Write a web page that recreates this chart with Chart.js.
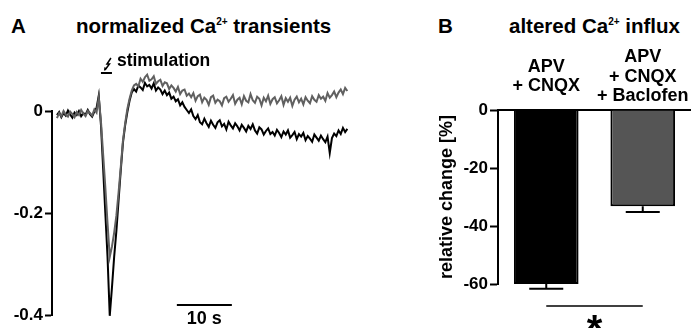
<!DOCTYPE html>
<html>
<head>
<meta charset="utf-8">
<script src="https://cdn.jsdelivr.net/npm/chart.js@4.4.1/dist/chart.umd.min.js"></script>
<style>
  html, body { margin: 0; padding: 0; background: #fff; }
  body { width: 691px; height: 328px; position: relative; overflow: hidden;
         font-family: "Liberation Sans", Arial, sans-serif; font-weight: bold; color: #000; }
  .lbl { position: absolute; font-size: 20.5px; line-height: 20px; white-space: nowrap; }
  .lbl sup { font-size: 10px; line-height: 0; vertical-align: 0; position: relative; top: -8px; }
  #chartA { position: absolute; left: 0; top: 0; }
  #chartB { position: absolute; left: 400px; top: 0; }
</style>
</head>
<body>
<div class="lbl" style="left:11px; top:16px;">A</div>
<div class="lbl" style="left:76px; top:16px;">normalized Ca<sup>2+</sup> transients</div>
<div class="lbl" style="left:438px; top:16px;">B</div>
<div class="lbl" style="left:509px; top:16px;">altered Ca<sup>2+</sup> influx</div>
<canvas id="chartA" width="360" height="328"></canvas>
<canvas id="chartB" width="291" height="328"></canvas>
<script>
// ---- panel A: normalized transients, one sample every 0.4 s ----
const sampleStep = 0.4;
const grayTrace = [
  -0.014, -0.004, -0.010, 0.000, -0.007, -0.011, -0.001, -0.006, -0.012, -0.002,
  -0.008, 0.002, -0.005, -0.010, 0.000, -0.004, -0.009, 0.003, -0.003, 0.026,
  -0.020, -0.085, -0.150, -0.220, -0.285, -0.265, -0.238, -0.205, -0.160, -0.110,
  -0.058, -0.024, 0.004, 0.024, 0.040, 0.050, 0.053, 0.048, 0.063, 0.057,
  0.066, 0.071, 0.059, 0.062, 0.068, 0.053, 0.058, 0.061, 0.049, 0.056,
  0.054, 0.043, 0.050, 0.045, 0.038, 0.047, 0.033, 0.040, 0.042, 0.030,
  0.034, 0.027, 0.035, 0.020, 0.029, 0.032, 0.017, 0.026, 0.022, 0.012,
  0.027, 0.030, 0.016, 0.022, 0.019, 0.011, 0.025, 0.028, 0.018, 0.024,
  0.031, 0.014, 0.022, 0.026, 0.013, 0.029, 0.020, 0.017, 0.033, 0.021,
  0.016, 0.028, 0.024, 0.011, 0.026, 0.019, 0.030, 0.014, 0.023, 0.027,
  0.015, 0.021, 0.029, 0.012, 0.025, 0.018, 0.026, 0.010, 0.022, 0.028,
  0.017, 0.024, 0.013, 0.027, 0.020, 0.015, 0.029, 0.022, 0.018, 0.031,
  0.024, 0.028, 0.020, 0.035, 0.026, 0.031, 0.038, 0.027, 0.036, 0.042,
  0.033, 0.045, 0.039
];
const blackTrace = [
  -0.008, -0.002, -0.012, -0.004, -0.009, 0.001, -0.007, -0.013, -0.003, -0.008,
  0.000, -0.010, -0.004, -0.007, 0.002, -0.006, -0.011, -0.001, 0.006, 0.030,
  -0.027, -0.112, -0.200, -0.286, -0.400, -0.345, -0.285, -0.235, -0.175, -0.116,
  -0.062, -0.028, -0.002, 0.020, 0.036, 0.043, 0.038, 0.050, 0.046, 0.041,
  0.055, 0.048, 0.051, 0.044, 0.054, 0.040, 0.046, 0.042, 0.033, 0.040,
  0.031, 0.036, 0.024, 0.028, 0.019, 0.023, 0.011, 0.017, 0.008, 0.002,
  -0.004, 0.003, -0.010, -0.016, -0.008, -0.022, -0.026, -0.015, -0.024, -0.031,
  -0.019, -0.027, -0.033, -0.022, -0.018, -0.030, -0.025, -0.036, -0.021, -0.028,
  -0.034, -0.024, -0.030, -0.038, -0.027, -0.033, -0.040, -0.029, -0.035, -0.026,
  -0.038, -0.044, -0.032, -0.036, -0.046, -0.039, -0.034, -0.045, -0.041, -0.048,
  -0.037, -0.043, -0.051, -0.040, -0.046, -0.038, -0.052, -0.047, -0.041, -0.055,
  -0.045, -0.050, -0.043, -0.057, -0.049, -0.054, -0.060, -0.046, -0.052, -0.058,
  -0.048, -0.055, -0.061, -0.050, -0.082, -0.053, -0.044, -0.049, -0.038, -0.045,
  -0.033, -0.041, -0.035
];
const yTicksA = [0, -0.2, -0.4];
const stimWindow = [8.0, 10.0];      // s
const scaleBarSpan = [21.8, 31.8];   // 10 s
const scaleBarLevel = -0.379;

// ---- panel B: altered influx ----
const conditions = [['APV', '+ CNQX'], ['APV', '+ CNQX', '+ Baclofen']];
const meanChange = [-60, -33.2];
const semChange = [1.6, 2.0];
const yTicksB = [0, -20, -40, -60];
const sigLevel = -67.6;

const FONT = '"Liberation Sans", Arial, sans-serif';

function toPoints(arr) {
  return arr.map(function(v, i) { return { x: i * sampleStep, y: v }; });
}

// scale bar + stimulation marker for panel A
const annotA = {
  id: 'annotA',
  afterDatasetsDraw(chart) {
    const ctx = chart.ctx, x = chart.scales.x, y = chart.scales.y;
    ctx.save();
    ctx.strokeStyle = '#000';
    ctx.fillStyle = '#000';
    ctx.lineWidth = 2;

    // 10 s bar
    const yb = y.getPixelForValue(scaleBarLevel);
    const x0 = x.getPixelForValue(scaleBarSpan[0]), x1 = x.getPixelForValue(scaleBarSpan[1]);
    ctx.beginPath();
    ctx.moveTo(x0, yb); ctx.lineTo(x1, yb);
    ctx.stroke();
    ctx.font = 'bold 18px ' + FONT;
    ctx.textAlign = 'center';
    ctx.textBaseline = 'alphabetic';
    ctx.fillText('10 s', (x0 + x1) / 2, yb + 19);

    // stimulation bar and bolt
    const s0 = x.getPixelForValue(stimWindow[0]), s1 = x.getPixelForValue(stimWindow[1]);
    const ys = 73;
    ctx.beginPath();
    ctx.moveTo(s0, ys); ctx.lineTo(s1, ys);
    ctx.stroke();
    ctx.lineWidth = 1.5;
    ctx.beginPath();
    ctx.moveTo(s0 + 10, ys - 15);
    ctx.lineTo(s0 + 6, ys - 9);
    ctx.lineTo(s0 + 8.5, ys - 9);
    ctx.lineTo(s0 + 4, ys - 3);
    ctx.stroke();
    ctx.beginPath();
    ctx.moveTo(s0 + 3, ys - 2);
    ctx.lineTo(s0 + 3.5, ys - 6);
    ctx.lineTo(s0 + 6, ys - 4.5);
    ctx.closePath();
    ctx.fill();
    ctx.font = 'bold 17.5px ' + FONT;
    ctx.textAlign = 'left';
    ctx.fillText('stimulation', s1 + 5, 66);
    ctx.restore();
  }
};

new Chart(document.getElementById('chartA'), {
  type: 'line',
  data: {
    datasets: [
      { data: toPoints(grayTrace), borderColor: '#606060', borderWidth: 2, pointRadius: 0, tension: 0, clip: false },
      { data: toPoints(blackTrace), borderColor: '#000000', borderWidth: 2, pointRadius: 0, tension: 0, clip: false }
    ]
  },
  options: {
    responsive: false,
    animation: false,
    devicePixelRatio: 1,
    layout: { padding: { left: 0, top: 111, right: 11, bottom: 7 } },
    plugins: { legend: { display: false }, tooltip: { enabled: false } },
    scales: {
      x: { type: 'linear', min: -0.9, max: 53.1, display: false },
      y: {
        min: -0.4, max: 0,
        afterFit: function(s) { s.width = 52; },
        afterBuildTicks: function(s) { s.ticks = yTicksA.map(function(v) { return { value: v }; }); },
        ticks: {
          color: '#000', padding: 2,
          font: { family: FONT, size: 17, weight: 'bold' },
          callback: function(v) { return v === 0 ? '0' : v.toFixed(1); }
        },
        grid: { drawOnChartArea: false, tickLength: 7, tickWidth: 2, tickColor: '#000' },
        border: { color: '#000', width: 2 }
      }
    }
  },
  plugins: [annotA]
});

// error bars and significance for panel B
const annotB = {
  id: 'annotB',
  afterDatasetsDraw(chart) {
    const ctx = chart.ctx, y = chart.scales.y;
    const bars = chart.getDatasetMeta(0).data;
    ctx.save();
    ctx.strokeStyle = '#000';
    ctx.fillStyle = '#000';
    ctx.lineWidth = 2;
    bars.forEach(function(bar, i) {
      const y0 = y.getPixelForValue(meanChange[i]);
      const y1 = y.getPixelForValue(meanChange[i] - semChange[i]);
      ctx.beginPath();
      ctx.moveTo(bar.x, y0); ctx.lineTo(bar.x, y1);
      ctx.moveTo(bar.x - 17, y1); ctx.lineTo(bar.x + 17, y1);
      ctx.stroke();
    });
    const ys = y.getPixelForValue(sigLevel);
    ctx.lineWidth = 1.5;
    ctx.beginPath();
    ctx.moveTo(bars[0].x, ys); ctx.lineTo(bars[1].x, ys);
    ctx.stroke();
    ctx.font = 'bold 40px ' + FONT;
    ctx.textAlign = 'center';
    ctx.textBaseline = 'alphabetic';
    ctx.fillText('*', (bars[0].x + bars[1].x) / 2, ys + 37);
    ctx.restore();
  }
};

new Chart(document.getElementById('chartB'), {
  type: 'bar',
  data: {
    labels: conditions,
    datasets: [{
      data: meanChange,
      backgroundColor: ['#000000', '#555555'],
      borderColor: '#000000',
      borderWidth: 2,
      barPercentage: 0.67,
      categoryPercentage: 1
    }]
  },
  options: {
    responsive: false,
    animation: false,
    devicePixelRatio: 1,
    layout: { padding: { left: 0, top: 0, right: 0, bottom: 44 } },
    plugins: { legend: { display: false }, tooltip: { enabled: false } },
    scales: {
      x: {
        position: 'top',
        afterFit: function(s) { s.height = 110; s.paddingLeft = 0; s.paddingRight = 0; },
        grid: { display: false },
        border: { color: '#000', width: 2 },
        ticks: {
          color: '#000', padding: 6, maxRotation: 0, autoSkip: false, crossAlign: 'center',
          font: { family: FONT, size: 18, weight: 'bold', lineHeight: 1.08 }
        }
      },
      y: {
        min: -60, max: 0,
        afterFit: function(s) { s.width = 98; },
        afterBuildTicks: function(s) { s.ticks = yTicksB.map(function(v) { return { value: v }; }); },
        ticks: { color: '#000', padding: 2, font: { family: FONT, size: 17, weight: 'bold' } },
        grid: { drawOnChartArea: false, tickLength: 8, tickWidth: 2, tickColor: '#000' },
        border: { color: '#000', width: 2 },
        title: {
          display: true, text: 'relative change [%]', color: '#000',
          font: { family: FONT, size: 18, weight: 'bold' },
          padding: { top: 36, bottom: 0 }
        }
      }
    }
  },
  plugins: [annotB]
});
</script>
</body>
</html>
